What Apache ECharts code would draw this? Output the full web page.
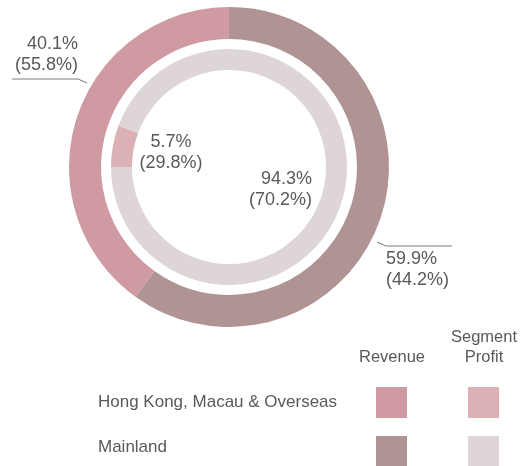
<!DOCTYPE html>
<html>
<head>
<meta charset="utf-8">
<script src="https://cdn.jsdelivr.net/npm/echarts@6/dist/echarts.min.js"></script>
<style>html,body{margin:0;padding:0;background:#fff;}#c{width:523px;height:466px;}</style>
</head>
<body>
<div id="c"></div>
<script>
// ---- data ----
const regions = ['Hong Kong, Macau & Overseas', 'Mainland'];
const revenueShare = [40.1, 59.9];
const revenuePrior = [55.8, 44.2];
const profitShare = [5.7, 94.3];
const profitPrior = [29.8, 70.2];
const columnHeaders = ['Revenue', 'Segment\nProfit'];

// ---- styles ----
const revenueColors = ['#d09aa2', '#b09494'];
const profitColors = ['#dcb1b6', '#ddd5d6'];
const textColor = '#595959';
const font = '"Liberation Sans", Arial, Helvetica, sans-serif';
const cx = 229, cy = 167;

const chart = echarts.init(document.getElementById('c'), null, {renderer: 'canvas'});

function fmt(prior) {
  return function (p) {
    return p.value.toFixed(1) + '%\n(' + prior[p.dataIndex].toFixed(1) + '%)';
  };
}

// label placement relative to the chart centre
const outerLayout = [
  {x: cx - 151, y: cy - 91, align: 'right', verticalAlign: 'bottom',
   pts: [[cx - 142, cy - 84], [cx - 151, cy - 88], [cx - 217, cy - 88]]},
  {x: cx + 157, y: cy + 82, align: 'left', verticalAlign: 'top',
   pts: [[cx + 148, cy + 75], [cx + 157, cy + 79], [cx + 223, cy + 79]]}
];
const innerLayout = [
  {x: cx - 58, y: cy - 14, align: 'center', verticalAlign: 'middle'},
  {x: cx + 83, y: cy + 23, align: 'right', verticalAlign: 'middle'}
];

const graphics = [];
// column headers
const colX = [392, 484];
columnHeaders.forEach((h, j) => {
  graphics.push({
    type: 'text', x: colX[j], y: 367,
    style: {text: h, font: '16.5px ' + font, fill: textColor, textAlign: 'center',
            textVerticalAlign: 'bottom', lineHeight: 20}
  });
});
const rowTextY = [402, 447];
const rowBoxTop = [387, 436];
regions.forEach((r, i) => {
  graphics.push({
    type: 'text', x: 98, y: rowTextY[i],
    style: {text: r, font: '17px ' + font, fill: textColor, textAlign: 'left', textVerticalAlign: 'middle'}
  });
  [revenueColors[i], profitColors[i]].forEach((c, j) => {
    graphics.push({
      type: 'rect', shape: {x: colX[j] - 16, y: rowBoxTop[i], width: 31, height: 31},
      style: {fill: c}
    });
  });
});

const labelBase = {show: true, position: 'outside', overflow: 'none', width: 200,
                   fontFamily: font, fontSize: 18, lineHeight: 21, color: textColor};

chart.setOption({
  animation: false,
  graphic: graphics,
  series: [
    {
      type: 'pie', silent: true,
      center: [cx, cy], radius: [128, 160],
      startAngle: 90, clockwise: false,
      data: regions.map((r, i) => ({name: r, value: revenueShare[i], itemStyle: {color: revenueColors[i]}})),
      label: Object.assign({}, labelBase, {formatter: fmt(revenuePrior)}),
      labelLine: {show: true, lineStyle: {color: '#7a7a7a', width: 1}},
      labelLayout: function (p) {
        const L = outerLayout[p.dataIndex];
        return {x: L.x, y: L.y, align: L.align, verticalAlign: L.verticalAlign, labelLinePoints: L.pts};
      }
    },
    {
      type: 'pie', silent: true,
      center: [cx, cy], radius: [97, 118],
      startAngle: 180, clockwise: true,
      data: regions.map((r, i) => ({name: r, value: profitShare[i], itemStyle: {color: profitColors[i]}})),
      label: Object.assign({}, labelBase, {formatter: fmt(profitPrior)}),
      labelLine: {show: false},
      labelLayout: function (p) {
        const L = innerLayout[p.dataIndex];
        return {x: L.x, y: L.y, align: L.align, verticalAlign: L.verticalAlign};
      }
    }
  ]
});
</script>
</body>
</html>
